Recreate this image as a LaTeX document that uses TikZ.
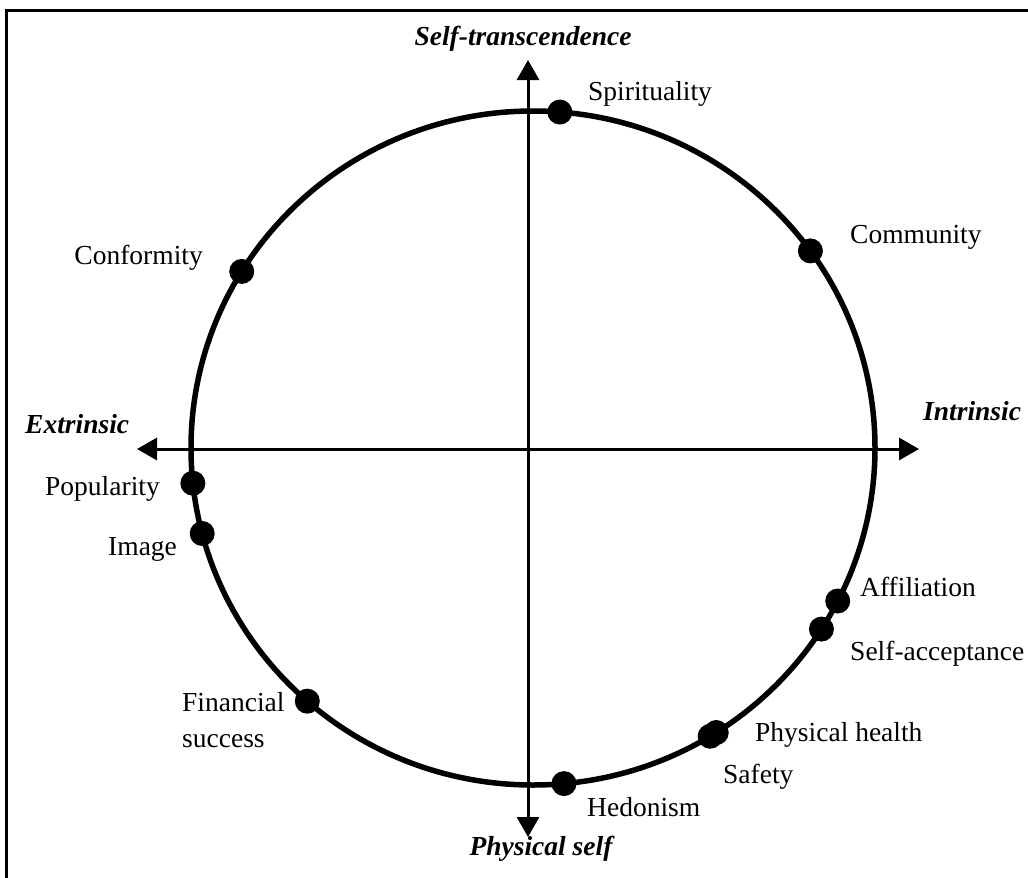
\documentclass[tikz,border=0pt]{standalone}
\usepackage{fontspec}
\setmainfont{Liberation Serif}
\usetikzlibrary{arrows.meta}
\begin{document}
\begin{tikzpicture}[x=1pt,y=-1pt,
  lbl/.style={inner sep=0pt,font=\fontsize{27.5}{33}\selectfont},
  axlbl/.style={inner sep=0pt,font=\fontsize{27.5}{33}\selectfont\bfseries\itshape},
  dot/.style={circle,fill=black,inner sep=0pt,minimum size=25pt},
  axis/.style={line width=3pt,{Triangle[width=22pt,length=20pt]}-{Triangle[width=22pt,length=20pt]}},
  ring/.style={line width=5.5pt},
  frame/.style={line width=3pt}]
\useasboundingbox (0,0) rectangle (1028,878);
\fill[white] (0,0) rectangle (1028,878);
% frame (top and left edges)
\coordinate (fl) at (6,878);
\coordinate (fc) at (6,10);
\coordinate (fr) at (1028,10);
\draw[frame] (fl) -- (fc) -- (fr);
% circle
\coordinate (c) at (533,448);
\draw[ring] (c) ellipse [x radius=342pt, y radius=337pt];
% axes
\coordinate (top) at (528,60);
\coordinate (bot) at (528,837);
\coordinate (lft) at (137,449);
\coordinate (rgt) at (919,449);
\draw[axis] (bot) -- (top);
\draw[axis] (lft) -- (rgt);
% dots
\path (c) ++(85.5:342pt and 337pt) node[dot] (spi) {};
\path (c) ++(35.8:342pt and 337pt) node[dot] (com) {};
\path (c) ++(148.4:342pt and 337pt) node[dot] (con) {};
\path (c) ++(186:342pt and 337pt) node[dot] (pop) {};
\path (c) ++(194.7:342pt and 337pt) node[dot] (img) {};
\path (c) ++(228.7:342pt and 337pt) node[dot] (fin) {};
\path (c) ++(275.2:342pt and 337pt) node[dot] (hed) {};
\path (c) ++(301.2:342pt and 337pt) node[dot] (saf) {};
\path (c) ++(302.4:342pt and 337pt) node[dot] (phy) {};
\path (c) ++(327.5:342pt and 337pt) node[dot] (sac) {};
\path (c) ++(333:342pt and 337pt) node[dot] (aff) {};
% axis labels
\node[axlbl,anchor=base] (lst) at (523,45) {Self-transcendence};
\node[axlbl,anchor=base] (lps) at (541,855) {Physical self};
\node[axlbl,anchor=base west] (lex) at (25,433) {Extrinsic};
\node[axlbl,anchor=base west] (lin) at (923,420) {Intrinsic};
% value labels
\node[lbl,anchor=base west] (tspi) at (588,100) {Spirituality};
\node[lbl,anchor=base west] (tcom) at (850,243) {Community};
\node[lbl,anchor=base east] (tcon) at (203,264) {Conformity};
\node[lbl,anchor=base west] (tpop) at (45,495) {Popularity};
\node[lbl,anchor=base west] (timg) at (108,555) {Image};
\node[lbl,anchor=base west] (tfin) at (182,711) {Financial};
\node[lbl,anchor=base west] (tsuc) at (182,747) {success};
\node[lbl,anchor=base west] (thed) at (587,816) {Hedonism};
\node[lbl,anchor=base west] (tsaf) at (723,783) {Safety};
\node[lbl,anchor=base west] (tphy) at (755,741) {Physical health};
\node[lbl,anchor=base west] (tsac) at (850,660) {Self-acceptance};
\node[lbl,anchor=base west] (taff) at (860,596) {Affiliation};
\end{tikzpicture}
\end{document}
